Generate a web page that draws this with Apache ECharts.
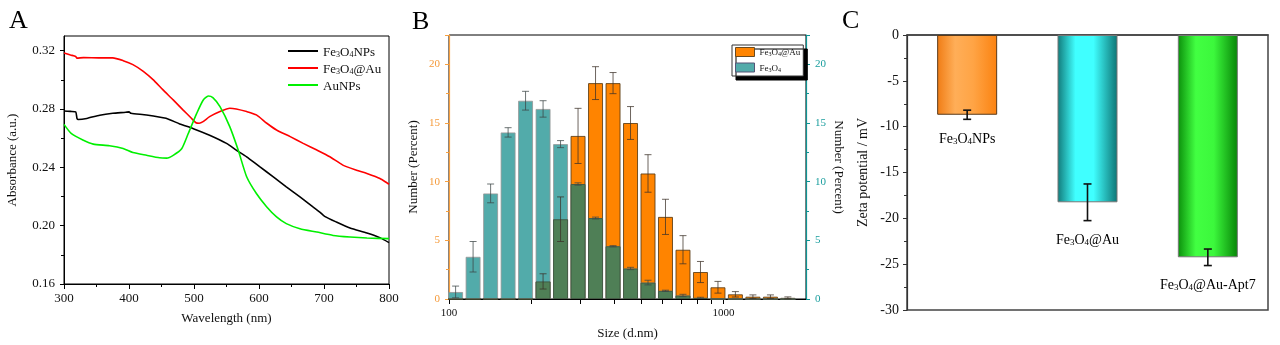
<!DOCTYPE html>
<html><head><meta charset="utf-8">
<script src="https://cdn.jsdelivr.net/npm/echarts@6/dist/echarts.min.js"></script>
<style>html,body{margin:0;padding:0;background:#fff}#c{width:1280px;height:345px}</style>
</head><body><div id="c"></div>
<script>
const FONT = '"Liberation Serif","Times New Roman",serif';

// ---------- Panel A: UV-vis absorbance ----------
const fe3o4Wl  = [300,310,318,320,322,335,355,375,395,400,403,427,457,478,499,524,550,565,581,601,622,642,663,683,693,701,719,740,766,786,800];
const fe3o4Abs = [0.2786,0.2783,0.2780,0.2735,0.2728,0.2735,0.2757,0.2770,0.2777,0.2780,0.2770,0.2759,0.2736,0.2697,0.2665,0.2620,0.2564,0.2518,0.2472,0.2404,0.2335,0.2266,0.2197,0.2128,0.2095,0.2064,0.2025,0.1984,0.1950,0.1918,0.1884];
const fe3o4AuWl  = [300,310,318,320,330,355,375,391,406,422,437,452,468,483,496,503,508,514,524,540,555,565,581,596,612,627,648,668,689,709,729,750,766,786,800];
const fe3o4AuAbs = [0.3184,0.3170,0.3160,0.3148,0.3152,0.3150,0.3150,0.3131,0.3104,0.3058,0.3001,0.2932,0.2862,0.2794,0.2736,0.2705,0.2702,0.2713,0.2747,0.2782,0.2805,0.2800,0.2782,0.2759,0.2702,0.2656,0.2610,0.2564,0.2518,0.2472,0.2415,0.2380,0.2357,0.2323,0.2284];
const auWl  = [300,311,329,345,370,391,406,427,447,458,468,481,491,504,514,522,529,540,555,568,581,596,612,627,642,663,689,714,740,766,800];
const auAbs = [0.2694,0.2632,0.2587,0.2559,0.2548,0.2529,0.2501,0.2482,0.2465,0.2463,0.2482,0.2527,0.2630,0.2768,0.2860,0.2889,0.2878,0.2816,0.2679,0.2518,0.2335,0.2220,0.2128,0.2060,0.2014,0.1979,0.1956,0.1933,0.1922,0.1915,0.1911];
const aYTicks = [0.16,0.20,0.24,0.28,0.32];

// ---------- Panel B: DLS size distribution ----------
const sizeBins = [105.7,122.4,141.8,164.2,190.1,220.2,255.0,295.3,342.0,396.1,458.7,531.2,615.1,712.4,825.0,955.4,1106,1281,1484,1718];
const fe3o4Num    = [0.6,3.6,9.0,14.2,16.9,16.2,13.2,9.8,6.9,4.5,2.6,1.4,0.7,0.3,0.1,0,0,0,0,0];
const fe3o4NumErr = [0.5,1.3,0.8,0.4,0.8,0.7,0.3,0.1,0.08,0.05,0.1,0.2,0.05,0.1,0.05,0,0,0,0,0];
const fe3o4AuNum    = [0,0,0,0,0,1.5,6.8,13.9,18.4,18.4,15.0,10.7,7.0,4.2,2.3,1.0,0.4,0.2,0.2,0.1];
const fe3o4AuNumErr = [0,0,0,0,0,0.65,1.9,2.35,1.4,0.9,1.4,1.6,1.5,1.2,0.9,0.5,0.23,0.15,0.15,0.08];
const sizeTickValues  = [100,200,300,400,500,600,700,800,900,1000];
const sizeLabelValues = [100,1000];
const sizeMin = 100, sizeMax = 2000;

// ---------- Panel C: Zeta potential ----------
const zetaCats = ['Fe3O4NPs','Fe3O4@Au','Fe3O4@Au-Apt7'];
const zetaVals = [-8.7,-18.25,-24.25];
const zetaErr  = [0.5,2.0,0.9];

function sub(name){
  const m = name.match(/^Fe3O4(.*)$/);
  if(!m) return '{n|'+name+'}';
  return '{n|Fe}{s|3}{n|O}{s|4}' + (m[1] ? '{n|'+m[1]+'}' : '');
}
function richSet(fs, ss, lh, sl){
  return {
    n:{fontFamily:FONT,fontSize:fs,lineHeight:lh,verticalAlign:'bottom',color:'#111'},
    s:{fontFamily:FONT,fontSize:ss,lineHeight:sl,verticalAlign:'bottom',color:'#111'}
  };
}

const pair = (xs, ys) => xs.map((x,i)=>[x, ys[i]]);
const chart = echarts.init(document.getElementById('c'), null, {renderer:'canvas'});

function errBar(color, lw, cap){
  return function(params, api){
    const x = api.value(0), v = api.value(1), e = api.value(2);
    if(!(e > 0) || !(v > 0 || v < 0)) return null;
    const t = api.coord([x, v+e]), b = api.coord([x, v-e]);
    const s = {stroke:color, lineWidth:lw};
    return {type:'group', children:[
      {type:'line', shape:{x1:t[0],y1:t[1],x2:b[0],y2:b[1]}, style:s},
      {type:'line', shape:{x1:t[0]-cap,y1:t[1],x2:t[0]+cap,y2:t[1]}, style:s},
      {type:'line', shape:{x1:b[0]-cap,y1:b[1],x2:b[0]+cap,y2:b[1]}, style:s}
    ]};
  };
}

const overlap = fe3o4Num.map((t,i)=>Math.min(t, fe3o4AuNum[i]));
const cGrad = [
  ['#f07c14','#ffae58','#ffa445','#fb8210'],
  ['#117a7a','#40ffff','#40ffff','#0d7474'],
  ['#0b8f0b','#42ff42','#3cf83c','#078507']
];
function grad(c){
  return new echarts.graphic.LinearGradient(0,0,1,0,[
    {offset:0,color:c[0]},{offset:0.3,color:c[1]},{offset:0.6,color:c[2]},{offset:1,color:c[3]}]);
}

const axisTxt = {fontFamily:FONT, color:'#111'};
const lg = v => Math.log10(v);

const option = {
  animation:false,
  backgroundColor:'#fff',
  textStyle:{fontFamily:FONT},
  graphic:[
    {type:'text', left:9, top:8, style:{text:'A', font:'26px '+FONT, fill:'#000'}},
    {type:'text', left:412, top:9, style:{text:'B', font:'26px '+FONT, fill:'#000'}},
    {type:'text', left:842, top:8, style:{text:'C', font:'26px '+FONT, fill:'#000'}}
  ],
  grid:[
    {left:64, right:891, top:36, bottom:61, show:true, borderColor:'#000', borderWidth:1, backgroundColor:'transparent'},
    {left:449, right:474, top:35, bottom:45, show:true, borderColor:'#000', borderWidth:1, backgroundColor:'transparent'},
    {left:907, right:12, top:35, bottom:35, show:true, borderColor:'#444', borderWidth:1.5, backgroundColor:'transparent'}
  ],
  legend:[
    {
      data:['Fe3O4NPs','Fe3O4@Au','AuNPs'],
      left:288, top:46, orient:'vertical', icon:'rect', itemWidth:30, itemHeight:2, itemGap:4,
      padding:0,
      formatter:sub,
      textStyle:{fontFamily:FONT, fontSize:13, rich:richSet(13,8,16,6)}
    },
    {
      data:[
        {name:'Fe3O4@Au ', itemStyle:{color:'#ff8400', borderColor:'#6a4a20', borderWidth:1}},
        {name:'Fe3O4 ', itemStyle:{color:'#52abaa', borderColor:'#557', borderWidth:1}}
      ],
      left:732, top:45, orient:'vertical', icon:'rect', itemWidth:19, itemHeight:9, itemGap:5,
      padding:[2,3,3,3],
      backgroundColor:'#fff', borderColor:'#333', borderWidth:1,
      shadowColor:'#000', shadowBlur:0, shadowOffsetX:4, shadowOffsetY:4,
      formatter:(n)=>sub(n.trim()),
      textStyle:{fontFamily:FONT, fontSize:9, rich:richSet(9,6,11,4)}
    }
  ],
  xAxis:[
    {gridIndex:0, type:'value', min:300, max:800, interval:100,
     name:'Wavelength (nm)', nameLocation:'middle', nameGap:28,
     nameTextStyle:{fontFamily:FONT, fontSize:13, color:'#111'},
     axisLine:{lineStyle:{color:'#000'}}, axisTick:{length:5, lineStyle:{color:'#000'}},
     minorTick:{show:true, splitNumber:2, length:3, lineStyle:{color:'#000'}},
     axisLabel:{...axisTxt, fontSize:13, margin:8}, splitLine:{show:false}},
    // B: visible bottom axis (log10 space)
    {gridIndex:1, type:'value', min:lg(sizeMin), max:lg(sizeMax), position:'bottom',
     name:'Size (d.nm)', nameLocation:'middle', nameGap:28,
     nameTextStyle:{fontFamily:FONT, fontSize:13, color:'#111'},
     axisLine:{show:true, lineStyle:{color:'#000'}},
     axisTick:{show:true, length:5, customValues:sizeTickValues.map(lg), lineStyle:{color:'#000'}},
     axisLabel:{...axisTxt, fontSize:11, margin:9, customValues:sizeLabelValues.map(lg),
       formatter:v=>String(Math.round(Math.pow(10, v)))},
     splitLine:{show:false}},
    // B: top frame ticks
    {gridIndex:1, type:'value', min:lg(sizeMin), max:lg(sizeMax), position:'top',
     axisLine:{show:true, lineStyle:{color:'#000'}},
     axisTick:{show:true, inside:true, length:4, customValues:sizeTickValues.map(lg), lineStyle:{color:'#000'}},
     axisLabel:{show:false}, splitLine:{show:false}},
    // B: log axis that positions the bars (hidden)
    {gridIndex:1, type:'log', logBase:10, min:sizeMin, max:sizeMax, show:false},
    {gridIndex:2, type:'category', data:zetaCats, position:'top',
     axisLine:{lineStyle:{color:'#444', width:1.5}},
     axisTick:{inside:true, length:4, lineStyle:{color:'#444'}},
     axisLabel:{show:false}}
  ],
  yAxis:[
    {gridIndex:0, type:'value', min:0.16, max:0.33, interval:0.04,
     name:'Absorbance (a.u.)', nameLocation:'middle', nameGap:45,
     nameTextStyle:{fontFamily:FONT, fontSize:13, color:'#111'},
     axisLine:{show:true, lineStyle:{color:'#000'}}, axisTick:{show:true, length:4, customValues:aYTicks, lineStyle:{color:'#000'}},
     minorTick:{show:true, splitNumber:2, length:3, lineStyle:{color:'#000'}},
     axisLabel:{...axisTxt, fontSize:13, margin:9, customValues:aYTicks, formatter:v=>v.toFixed(2)},
     splitLine:{show:false}},
    {gridIndex:1, type:'value', min:0, max:22.5, interval:5, position:'left',
     name:'Number (Percent)', nameLocation:'middle', nameGap:29,
     nameTextStyle:{fontFamily:FONT, fontSize:13, color:'#111'},
     axisLine:{show:true, lineStyle:{color:'#f7a040', width:1.2}},
     axisTick:{show:true, length:4, lineStyle:{color:'#f7a040'}},
     minorTick:{show:true, splitNumber:2, length:3, lineStyle:{color:'#f7a040'}},
     axisLabel:{fontFamily:FONT, fontSize:11, color:'#f59a3a', margin:9, showMaxLabel:false},
     splitLine:{show:false}},
    {gridIndex:1, type:'value', min:0, max:22.5, interval:5, position:'right',
     name:'Number (Percent)', nameLocation:'middle', nameGap:26, nameRotate:-90,
     nameTextStyle:{fontFamily:FONT, fontSize:13, color:'#111'},
     axisLine:{show:true, lineStyle:{color:'#0e9494', width:1.2}},
     axisTick:{show:true, length:4, lineStyle:{color:'#0e9494'}},
     minorTick:{show:true, splitNumber:2, length:3, lineStyle:{color:'#0e9494'}},
     axisLabel:{fontFamily:FONT, fontSize:11, color:'#1a9e9e', margin:9, showMaxLabel:false},
     splitLine:{show:false}},
    {gridIndex:2, type:'value', min:-30, max:0, interval:5,
     name:'Zeta potential / mV', nameLocation:'middle', nameGap:37,
     nameTextStyle:{fontFamily:FONT, fontSize:14, color:'#111'},
     axisLine:{show:true, lineStyle:{color:'#333', width:1.2}},
     axisTick:{show:true, length:4, lineStyle:{color:'#333'}},
     minorTick:{show:true, splitNumber:2, length:3, lineStyle:{color:'#333'}},
     axisLabel:{...axisTxt, fontSize:14, margin:8},
     splitLine:{show:false}}
  ],
  series:[
    {name:'Fe3O4NPs', type:'line', xAxisIndex:0, yAxisIndex:0, data:pair(fe3o4Wl,fe3o4Abs),
     showSymbol:false, symbol:'none', lineStyle:{color:'#000', width:1.6}, itemStyle:{color:'#000'}, smooth:0.2},
    {name:'Fe3O4@Au', type:'line', xAxisIndex:0, yAxisIndex:0, data:pair(fe3o4AuWl,fe3o4AuAbs),
     showSymbol:false, symbol:'none', lineStyle:{color:'#ff0000', width:1.6}, itemStyle:{color:'#ff0000'}, smooth:0.2},
    {name:'AuNPs', type:'line', xAxisIndex:0, yAxisIndex:0, data:pair(auWl,auAbs),
     showSymbol:false, symbol:'none', lineStyle:{color:'#00f000', width:1.6}, itemStyle:{color:'#00f000'}, smooth:0.2},

    {name:'Fe3O4@Au ', type:'bar', xAxisIndex:3, yAxisIndex:1, barWidth:15, barGap:'-100%',
     data:pair(sizeBins, fe3o4AuNum),
     itemStyle:{color:'#ff8400', borderColor:'rgba(90,60,20,0.85)', borderWidth:1}},
    {name:'Fe3O4 ', type:'bar', xAxisIndex:3, yAxisIndex:1, barWidth:15, barGap:'-100%',
     data:pair(sizeBins, fe3o4Num),
     itemStyle:{color:'#52abaa', borderColor:'rgba(150,150,150,0.8)', borderWidth:1}},
    {name:'overlap', type:'bar', xAxisIndex:3, yAxisIndex:1, barWidth:15, barGap:'-100%',
     data:pair(sizeBins, overlap),
     itemStyle:{color:'#4f7f56', borderColor:'rgba(60,80,60,0.8)', borderWidth:1}},
    {name:'errTeal', type:'custom', xAxisIndex:3, yAxisIndex:1,
     data:sizeBins.map((x,i)=>[x, fe3o4Num[i], fe3o4NumErr[i]]),
     renderItem:errBar('rgba(60,70,70,0.75)', 1, 3.5), z:5},
    {name:'errOrange', type:'custom', xAxisIndex:3, yAxisIndex:1,
     data:sizeBins.map((x,i)=>[x, fe3o4AuNum[i], fe3o4AuNumErr[i]]),
     renderItem:errBar('rgba(60,50,40,0.75)', 1, 3.5), z:5},

    {name:'zeta', type:'bar', xAxisIndex:4, yAxisIndex:3, barWidth:60,
     data:zetaVals.map((v,i)=>({value:v, itemStyle:{color:grad(cGrad[i]), borderColor:i===0?'#5a3a1a':'#777', borderWidth:1}}))},
    {name:'zetaErr', type:'custom', xAxisIndex:4, yAxisIndex:3, z:5,
     data:zetaVals.map((v,i)=>[i, v, zetaErr[i]]),
     renderItem:function(params, api){
       const i = api.value(0), v = api.value(1), e = api.value(2);
       const t = api.coord([i, v+e]), b = api.coord([i, v-e]);
       const s = {stroke:'#111', lineWidth:1.6};
       return {type:'group', children:[
         {type:'line', shape:{x1:t[0],y1:t[1],x2:b[0],y2:b[1]}, style:s},
         {type:'line', shape:{x1:t[0]-4,y1:t[1],x2:t[0]+4,y2:t[1]}, style:s},
         {type:'line', shape:{x1:b[0]-4,y1:b[1],x2:b[0]+4,y2:b[1]}, style:s},
         {type:'text', x:b[0], y:b[1]+18, style:{text:sub(zetaCats[i]), rich:richSet(14,9,17,7),
           align:'center', verticalAlign:'middle', fontFamily:FONT, fontSize:14}}
       ]};
     }}
  ]
};
chart.setOption(option);
</script>
</body></html>
